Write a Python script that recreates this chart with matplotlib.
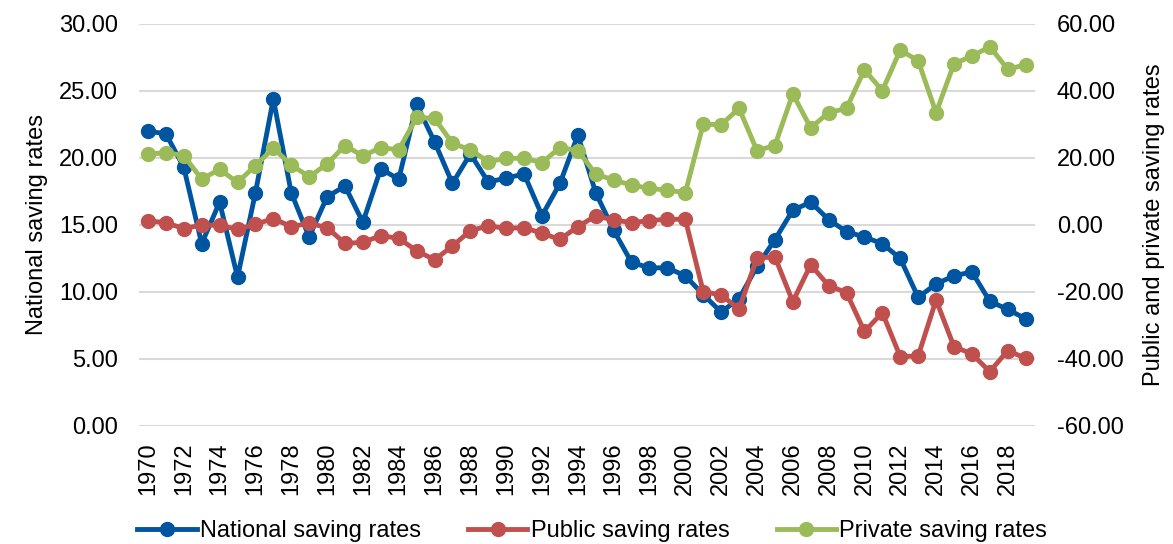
import matplotlib
matplotlib.use('Agg')
from matplotlib import pyplot as plt
import numpy as np

plt.rcParams['font.family'] = ['Liberation Sans', 'DejaVu Sans']
plt.rcParams['font.size'] = 17

years = list(range(1970, 2020))

national = [22.0, 21.8, 19.3, 13.6, 16.7, 11.1, 17.4, 24.4, 17.4, 14.1,
            17.1, 17.9, 15.2, 19.2, 18.4, 24.0, 21.2, 18.1, 20.3, 18.2,
            18.5, 18.8, 15.7, 18.1, 21.7, 17.4, 14.6, 12.2, 11.8, 11.8,
            11.2, 9.8, 8.5, 9.5, 11.9, 13.9, 16.1, 16.7, 15.4, 14.5,
            14.1, 13.6, 12.5, 9.6, 10.6, 11.2, 11.5, 9.3, 8.7, 8.0]

public = [1.2, 0.7, -1.1, 0.0, -0.1, -1.3, 0.2, 1.9, -0.5, 0.5,
          -0.8, -5.5, -5.2, -3.2, -4.0, -7.7, -10.4, -6.3, -1.7, -0.3,
          -1.0, -0.8, -2.5, -4.3, -0.5, 2.7, 1.5, 0.7, 1.3, 1.7,
          1.7, -19.9, -20.9, -25.1, -9.9, -9.5, -22.9, -11.9, -18.1, -20.2,
          -31.8, -26.2, -39.3, -39.1, -22.4, -36.3, -38.5, -43.8, -37.5, -39.8]

private = [21.1, 21.6, 20.7, 13.7, 16.6, 12.7, 17.7, 22.9, 17.9, 14.4,
           18.2, 23.7, 20.6, 23.1, 22.4, 32.1, 31.8, 24.4, 22.4, 18.9,
           19.9, 19.9, 18.6, 23.1, 22.2, 15.2, 13.4, 11.9, 10.9, 10.4,
           9.6, 30.1, 29.9, 34.8, 22.2, 23.7, 39.1, 29.0, 33.5, 34.8,
           46.3, 40.1, 52.2, 49.0, 33.5, 48.1, 50.4, 53.2, 46.5, 47.8]

blue = '#0055a0'
red = '#c0504d'
green = '#9bbb59'

x = np.arange(len(years))

fig = plt.figure(figsize=(11.73, 5.44), dpi=100)
ax = fig.add_axes([0.1185, 0.217, 0.7635, 0.739])
ax2 = ax.twinx()

l1, = ax.plot(x, national, color=blue, lw=3.5, marker='o', ms=10, label='National saving rates')
l2, = ax2.plot(x, public, color=red, lw=3.5, marker='o', ms=10, label='Public saving rates')
l3, = ax2.plot(x, private, color=green, lw=3.5, marker='o', ms=10, label='Private saving rates')

ax.set_xlim(-0.5, len(years) - 0.5)
ax.set_ylim(0, 30)
ax2.set_ylim(-60, 60)
ax.set_yticks(np.arange(0, 31, 5))
ax.set_yticklabels(['%.2f' % v for v in np.arange(0, 31, 5)])
ax2.set_yticks(np.arange(-60, 61, 20))
ax2.set_yticklabels(['%.2f' % v for v in np.arange(-60, 61, 20)])
ax.set_xticks(x[::2])
ax.set_xticklabels([str(y) for y in years[::2]], rotation=90)

ax.grid(axis='y', color='#d9d9d9', lw=1.5)
ax.set_axisbelow(True)
for a in (ax, ax2):
    for s in a.spines.values():
        s.set_visible(False)
ax.tick_params(axis='y', length=0, pad=15)
ax.tick_params(axis='x', length=0, pad=12)
ax2.tick_params(axis='y', length=0, pad=16)

ax.set_ylabel('National saving rates', labelpad=8)
ax2.set_ylabel('Public and private saving rates', labelpad=14)

fig.legend(handles=[l1, l2, l3], loc='lower center', bbox_to_anchor=(0.505, -0.035),
           ncol=3, frameon=False, handlelength=2.5, handletextpad=0.15,
           columnspacing=2.0)

fig.savefig('out.png', dpi=100)
